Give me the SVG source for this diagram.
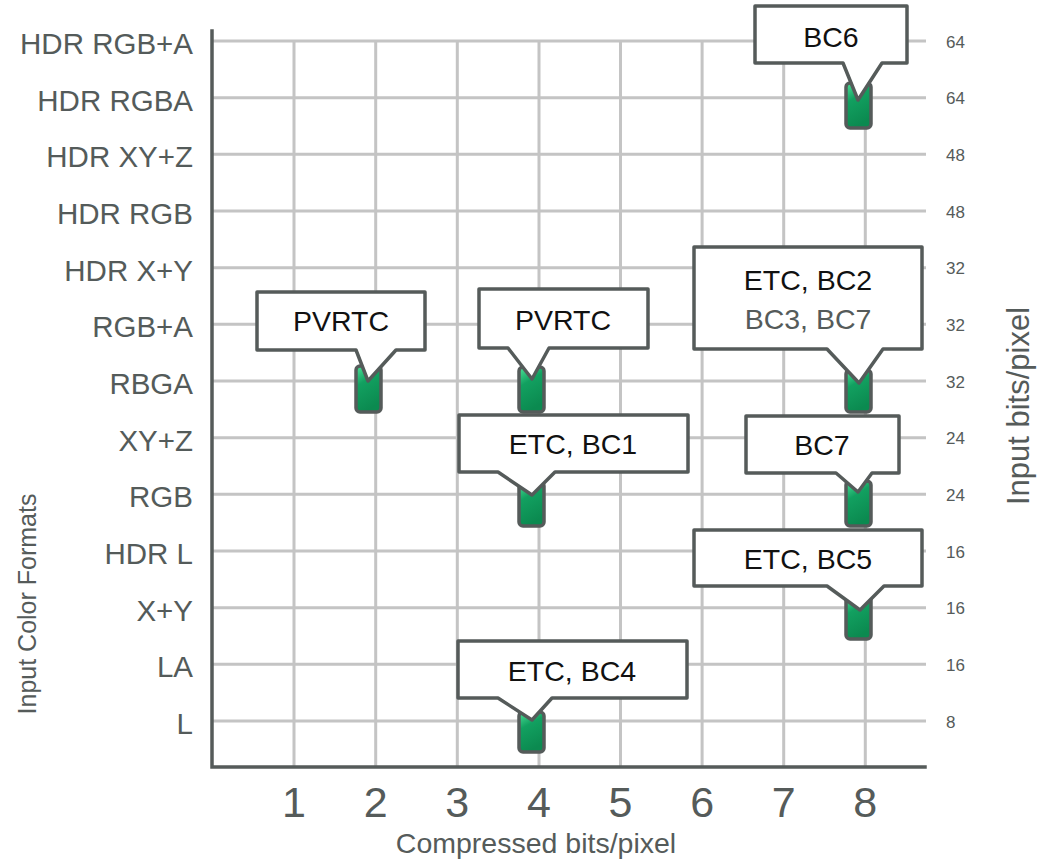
<svg xmlns="http://www.w3.org/2000/svg" width="1041" height="860" viewBox="0 0 1041 860">
  <defs>
    <linearGradient id="barFill" x1="0" y1="0" x2="0.35" y2="1">
      <stop offset="0" stop-color="#4fe39a"/>
      <stop offset="0.4" stop-color="#12a060"/>
      <stop offset="1" stop-color="#0b8a50"/>
    </linearGradient>
  </defs>
  <style>
    .grid { stroke: #c4c4c4; stroke-width: 3; fill: none; }
    .axis { stroke: #555b5a; stroke-width: 3.5; fill: none; stroke-linecap: square; }
    .rowlab { font-family: "Liberation Sans", Arial, sans-serif; font-size: 29.5px; fill: #545b5a; text-anchor: end; }
    .bits { font-family: "Liberation Sans", Arial, sans-serif; font-size: 17px; fill: #555b5a; }
    .xnum { font-family: "Liberation Sans", Arial, sans-serif; font-size: 43px; fill: #555b5a; text-anchor: middle; }
    .title { font-family: "Liberation Sans", Arial, sans-serif; font-size: 28.5px; fill: #555b5a; text-anchor: middle; }
    .bar { fill: url(#barFill); stroke: #555b5a; stroke-width: 3.5; }
    .callout { fill: #ffffff; stroke: #555b5a; stroke-width: 3.5; stroke-linejoin: round; }
    .ctext { font-family: "Liberation Sans", Arial, sans-serif; font-size: 28.5px; fill: #111111; text-anchor: middle; }
    .ctext2 { font-family: "Liberation Sans", Arial, sans-serif; font-size: 28.5px; fill: #555b5a; text-anchor: middle; }
  </style>

  <rect width="1041" height="860" fill="#ffffff"/>

  <!-- grid -->
  <g id="grid">
    <path class="grid" d="M212 41H926 M212 97.7H926 M212 154.3H926 M212 211H926 M212 267.7H926 M212 324.3H926 M212 381H926 M212 437.7H926 M212 494.3H926 M212 551H926 M212 607.7H926 M212 664.3H926 M212 721H926"/>
    <path class="grid" d="M294 41V767 M375.7 41V767 M457.3 41V767 M539 41V767 M620.5 41V767 M702.1 41V767 M783.7 41V767 M865.3 41V767"/>
  </g>

  <!-- axes -->
  <g id="axes">
    <path class="axis" d="M212 31V767H925"/>
  </g>

  <!-- format labels -->
  <g id="row-labels">
    <text class="rowlab" x="193" y="54">HDR RGB+A</text>
    <text class="rowlab" x="193" y="110.7">HDR RGBA</text>
    <text class="rowlab" x="193" y="167.3">HDR XY+Z</text>
    <text class="rowlab" x="193" y="224">HDR RGB</text>
    <text class="rowlab" x="193" y="280.7">HDR X+Y</text>
    <text class="rowlab" x="193" y="337.3">RGB+A</text>
    <text class="rowlab" x="193" y="394">RBGA</text>
    <text class="rowlab" x="193" y="450.7">XY+Z</text>
    <text class="rowlab" x="193" y="507.3">RGB</text>
    <text class="rowlab" x="193" y="564">HDR L</text>
    <text class="rowlab" x="193" y="620.7">X+Y</text>
    <text class="rowlab" x="193" y="677.3">LA</text>
    <text class="rowlab" x="193" y="734">L</text>
  </g>

  <!-- input bits per pixel -->
  <g id="bit-labels">
    <text class="bits" x="946" y="47.5">64</text>
    <text class="bits" x="946" y="104.2">64</text>
    <text class="bits" x="946" y="160.8">48</text>
    <text class="bits" x="946" y="217.5">48</text>
    <text class="bits" x="946" y="274.2">32</text>
    <text class="bits" x="946" y="330.8">32</text>
    <text class="bits" x="946" y="387.5">32</text>
    <text class="bits" x="946" y="444.2">24</text>
    <text class="bits" x="946" y="500.8">24</text>
    <text class="bits" x="946" y="557.5">16</text>
    <text class="bits" x="946" y="614.2">16</text>
    <text class="bits" x="946" y="670.8">16</text>
    <text class="bits" x="946" y="727.5">8</text>
  </g>

  <!-- compressed bits per pixel -->
  <g id="x-labels">
    <text class="xnum" x="294" y="817">1</text>
    <text class="xnum" x="375.7" y="817">2</text>
    <text class="xnum" x="457.3" y="817">3</text>
    <text class="xnum" x="539" y="817">4</text>
    <text class="xnum" x="620.5" y="817">5</text>
    <text class="xnum" x="702.1" y="817">6</text>
    <text class="xnum" x="783.7" y="817">7</text>
    <text class="xnum" x="865.3" y="817">8</text>
  </g>

  <!-- axis titles -->
  <g id="titles">
    <text class="title" x="536" y="853">Compressed bits/pixel</text>
    <text class="title" style="font-size:31px" transform="translate(1029 406) rotate(-90)" x="0" y="0">Input bits/pixel</text>
    <text class="title" style="font-size:25px" transform="translate(36 604) rotate(-90)" x="0" y="0">Input Color Formats</text>
  </g>

  <!-- bars -->
  <g id="bars">
    <rect class="bar" x="846" y="83" width="25" height="45" rx="4"/>
    <rect class="bar" x="356" y="366" width="25" height="46" rx="4"/>
    <rect class="bar" x="519" y="367" width="25" height="45" rx="4"/>
    <rect class="bar" x="846" y="370" width="25" height="42" rx="4"/>
    <rect class="bar" x="519" y="482" width="25" height="44" rx="4"/>
    <rect class="bar" x="846" y="481" width="25" height="45" rx="4"/>
    <rect class="bar" x="846" y="595" width="25" height="44" rx="4"/>
    <rect class="bar" x="519" y="712" width="25" height="40" rx="4"/>
  </g>

  <!-- callouts -->
  <g id="callout-bc6">
    <path class="callout" d="M755 6H907V63H882L858 100L843 63H755Z"/>
    <text class="ctext" x="831" y="47">BC6</text>
  </g>
  <g id="callout-pvrtc-2">
    <path class="callout" d="M257 292H425V350H396L368 381L356 350H257Z"/>
    <text class="ctext" x="341" y="331">PVRTC</text>
  </g>
  <g id="callout-pvrtc-4">
    <path class="callout" d="M479 289H648V348H549L532 379L508 348H479Z"/>
    <text class="ctext" x="563" y="330">PVRTC</text>
  </g>
  <g id="callout-etc-bc2">
    <path class="callout" d="M694 247H922V349H883L859 383L827 349H694Z"/>
    <text class="ctext" x="808" y="290">ETC, BC2</text>
    <text class="ctext2" x="808" y="329">BC3, BC7</text>
  </g>
  <g id="callout-etc-bc1">
    <path class="callout" d="M459 415H688V472H555L532 495L498 472H459Z"/>
    <text class="ctext" x="573" y="454">ETC, BC1</text>
  </g>
  <g id="callout-bc7">
    <path class="callout" d="M746 416H899V473H872L858 492L836 473H746Z"/>
    <text class="ctext" x="822" y="455">BC7</text>
  </g>
  <g id="callout-etc-bc5">
    <path class="callout" d="M694 530H922V586H884L860 610L827 586H694Z"/>
    <text class="ctext" x="808" y="569">ETC, BC5</text>
  </g>
  <g id="callout-etc-bc4">
    <path class="callout" d="M458 641H687V698H552L532 720L498 698H458Z"/>
    <text class="ctext" x="572" y="681">ETC, BC4</text>
  </g>
</svg>
